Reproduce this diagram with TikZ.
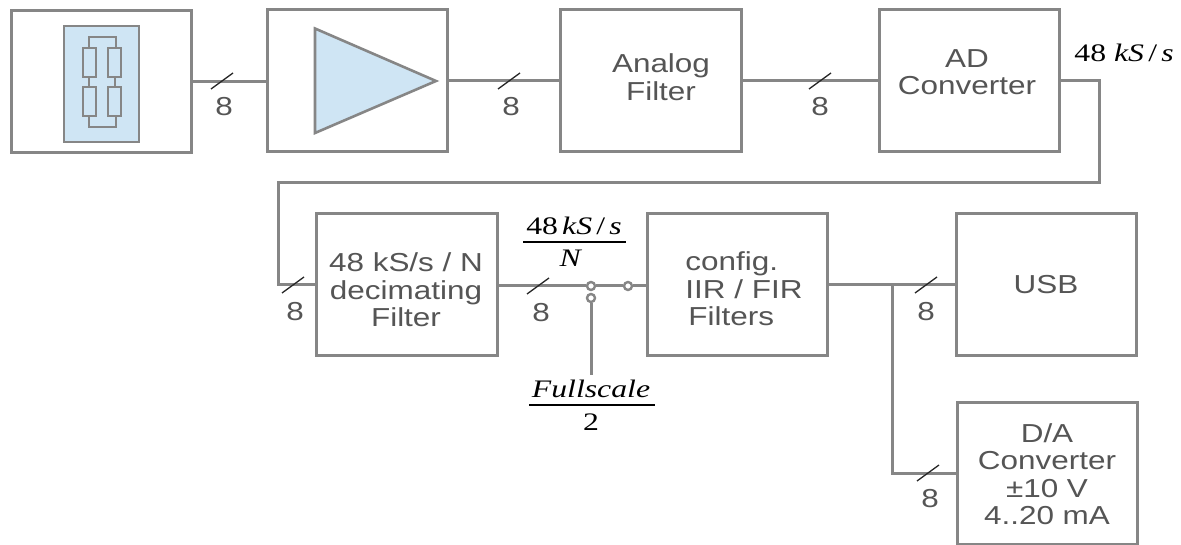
\documentclass[tikz,border=0pt]{standalone}
\usepackage{fontspec}
\setmainfont{Liberation Sans}
\newfontfamily\widesans[FakeStretch=1.21]{Liberation Sans}
\newfontfamily\wideserif[FakeStretch=1.26]{Liberation Serif}
\definecolor{ln}{HTML}{868686}
\definecolor{fillb}{HTML}{CFE5F4}
\definecolor{txt}{HTML}{555555}
\tikzset{
 blk/.style={draw=ln,line width=3pt,fill=white,inner sep=0pt},
 wire/.style={draw=ln,line width=3pt},
 thin2/.style={draw=ln,line width=2pt},
 slash/.style={draw=black!85,line width=1.3pt},
 num/.style={text=txt,font=\widesans\fontsize{26}{27.5}\selectfont,inner sep=0pt,align=center},
 mth/.style={font=\wideserif\fontsize{25.2}{27}\selectfont,inner sep=0pt,text=black},
 contact/.style={circle,draw=ln,line width=2.4pt,fill=white,minimum size=8pt,inner sep=0pt},
 res/.style={draw=ln,line width=2pt,fill=fillb,inner sep=0pt},
 rule/.style={fill=black,minimum height=2pt,inner sep=0pt},
}
\begin{document}
\begin{tikzpicture}[x=1pt,y=-1pt]
\useasboundingbox (0,0) rectangle (1181,545);
% blocks
\node[blk,minimum width=180pt,minimum height=142pt] (b1) at (101,82) {};
\node[blk,minimum width=180pt,minimum height=142pt] (b2) at (357.5,81) {};
\node[blk,minimum width=181pt,minimum height=142pt] (b3) at (651,81) {};
\node[blk,minimum width=180pt,minimum height=142pt] (b4) at (969,81) {};
\node[blk,minimum width=181pt,minimum height=142pt] (b5) at (407,285) {};
\node[blk,minimum width=180pt,minimum height=142pt] (b6) at (737,285) {};
\node[blk,minimum width=180pt,minimum height=142pt] (b7) at (1046,285) {};
\node[blk,minimum width=180pt,minimum height=142pt] (b8) at (1047,473) {};
% block texts
\node[num] (t3) at (661,77) {Analog\\Filter};
\node[num] (t4) at (967,72) {AD\\Converter};
\node[num] (t5) at (406,290) {48 kS/s / N\\decimating\\Filter};
\node[num,align=left] (t6) at (744,289) {config.\\IIR / FIR\\\hspace{3pt}Filters};
\node[num] (t7) at (1046,285) {USB};
\node[num] (t8) at (1047,474) {D/A\\Converter\\±10 V\\4..20 mA};
% sensor
\node[draw=ln,line width=2pt,fill=fillb,minimum width=75pt,minimum height=116pt,inner sep=0pt] (s) at (101.5,84) {};
\foreach \n/\x/\y in {ra/89/62.5,rb/114.5/62.5,rc/89/101.5,rd/114.5/101.5}
  \node[res,minimum width=13pt,minimum height=29pt] (\n) at (\x,\y) {};
\coordinate (tl) at (89,37.5); \coordinate (tr) at (116,37.5);
\coordinate (bl) at (89,127); \coordinate (br) at (116,127);
\draw[thin2] (ra.north) -- (tl) -- (tr) -- (tr |- rb.north);
\draw[thin2] (ra) -- (rc);
\draw[thin2] (rb) -- (rd);
\draw[thin2] (rc.south) -- (bl) -- (br) -- (br |- rd.south);
% amp
\coordinate (a1) at (315,28.5); \coordinate (a2) at (315,133); \coordinate (a3) at (436,81);
\draw[thin2,line width=2.6pt,fill=fillb] (a1) -- (a3) -- (a2) -- cycle;
% wires
\draw[wire] (b1.east) -- (b1.east -| b2.west);
\draw[wire] (b2.east) -- (b3.west);
\draw[wire] (b3.east) -- (b4.west);
\coordinate (w1) at (1099,81); \coordinate (w2) at (1099,183); \coordinate (w3) at (278,183); \coordinate (w4) at (278,285);
\draw[wire] (b4.east) -- (w1) -- (w2) -- (w3) -- (w4) -- (b5.west);
\coordinate (f) at (591,375);
\coordinate (j) at (892,285); \coordinate (j2) at (892,473);
\draw[wire] (b6.east) -- (b7.west);
\draw[wire] (j) -- (j2) -- (b8.west);
\node[contact] (c1) at (591,286) {};
\node[contact] (c2) at (628,286) {};
\node[contact] (c3) at (591,298) {};
\draw[wire] (b5.east |- c1) -- (c1);
\draw[wire] (c1) -- (c2);
\draw[wire] (c2) -- (c2 -| b6.west);
\draw[wire] (c3) -- (f);
% slashes
\foreach \x/\y in {222/81,509/81,820/81,293/285,538/286,926/285,928/473}
  \draw[slash] (\x-11,\y+8) -- (\x+11,\y-8);
% numbers
\node[num] (n1) at (224,107) {8};
\node[num] (n2) at (511,107) {8};
\node[num] (n3) at (820,107) {8};
\node[num] (n4) at (295,312) {8};
\node[num] (n5) at (541,313) {8};
\node[num] (n6) at (926,312) {8};
\node[num] (n7) at (930,499) {8};
% math labels
\node[mth] (m1) at (1124,53) {48 \textit{kS}\,/\,\textit{s}};
\node[mth] (m2) at (574,226) {48\,\textit{kS}\,/\,\textit{s}};
\node[mth] (m3) at (571,258) {\textit{N}};
\node[rule,minimum width=103pt] (m4) at (574,242) {};
\node[mth] (m5) at (591,389) {\textit{Fullscale}};
\node[rule,minimum width=126pt] (m6) at (592,405) {};
\node[mth] (m7) at (591,422) {2};
\end{tikzpicture}
\end{document}
